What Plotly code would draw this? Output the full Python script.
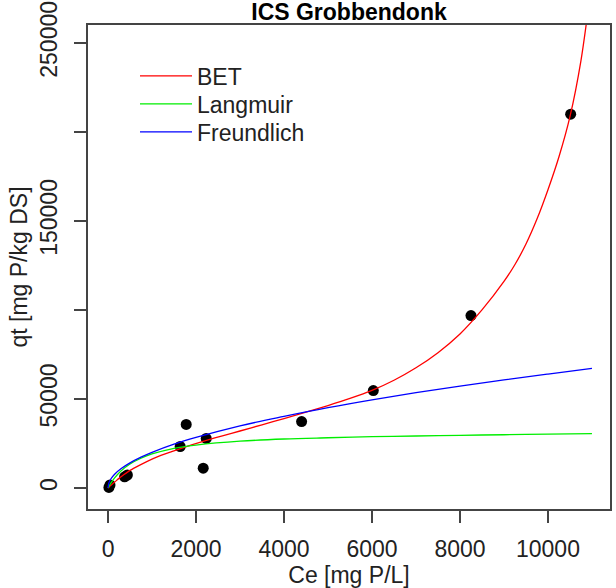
import plotly.graph_objects as go

# Observed data points
ce_obs = [20, 45, 377, 440, 1640, 1777, 2164, 2232, 4400, 6030, 8250, 10516]
qt_obs = [300, 1700, 6300, 7300, 23300, 35700, 11100, 27800, 37300, 54700, 96800, 209900]

# Fitted curves
bet_x = [0, 25, 50, 100, 150, 250, 350, 500, 700, 1000, 1300, 1600, 1900, 2200,
         2600, 3000, 3500, 4000, 4500, 5000, 5500, 6000, 6500, 7000, 7500, 8000,
         8500, 9000, 9250, 9500, 9750, 10000, 10250, 10500, 10750, 11000]
bet_y = [0, 600, 1200, 2300, 3300, 5400, 7300, 9900, 12600, 16200, 19100, 21700,
         24200, 26500, 29300, 32000, 35500, 39000, 42600, 46300, 50300, 54800,
         60500, 67500, 76000, 86500, 100000, 116000, 125500, 137000, 151000,
         167500, 186000, 208500, 240000, 285000]

lang_x = [0, 50, 150, 300, 500, 750, 1000, 1500, 2000, 3000, 4000, 5000, 6000,
          7000, 8000, 9000, 10000, 11000]
lang_y = [0, 2150, 5700, 9700, 13500, 16700, 19100, 22300, 24100, 26300, 27500,
          28200, 28800, 29200, 29600, 29900, 30200, 30500]

freu_x = [0, 20, 60, 150, 300, 500, 750, 1000, 1500, 2000, 3000, 4000, 5000,
          6000, 7000, 8000, 9000, 10000, 11000]
freu_y = [0, 2800, 4900, 7700, 10900, 14100, 17300, 20000, 24600, 28400, 34900,
          40200, 45100, 49500, 53500, 57200, 60700, 64000, 67200]

x_ticks = [0, 2000, 4000, 6000, 8000, 10000]
x_ticktext = ["0", "2000", "4000", "6000", "8000", "10000"]
y_ticks = [0, 50000, 100000, 150000, 200000, 250000]
y_ticktext = ["0", "50000", "", "150000", "", "250000"]

FONT = "Liberation Sans, Arial, Helvetica, sans-serif"
FS = 23

fig = go.Figure()
fig.add_trace(go.Scatter(x=ce_obs, y=qt_obs, mode="markers",
                         marker=dict(color="black", size=11),
                         showlegend=False))
fig.add_trace(go.Scatter(x=bet_x, y=bet_y, mode="lines", name="BET", legend="legend",
                         line=dict(color="#FF0000", width=1.3, shape="spline",
                                   smoothing=0.8)))
fig.add_trace(go.Scatter(x=lang_x, y=lang_y, mode="lines", name="Langmuir",
                         legend="legend2",
                         line=dict(color="#00EE00", width=1.3, shape="spline")))
fig.add_trace(go.Scatter(x=freu_x, y=freu_y, mode="lines", name="Freundlich",
                         legend="legend3",
                         line=dict(color="#0000FF", width=1.3, shape="spline")))

axis_common = dict(showgrid=False, zeroline=False, showline=True, mirror=True,
                   linecolor="#444", linewidth=1.5, ticks="outside", ticklen=12,
                   tickcolor="#444", tickwidth=1.5, automargin=False,
                   tickfont=dict(family=FONT, size=FS, color="#222"))

PLOT_T, PLOT_H = 25, 484


def legend_at(row_y):
    return dict(x=(135 - 88) / 522, y=1 - (row_y - PLOT_T) / PLOT_H,
                xanchor="left", yanchor="middle",
                bgcolor="rgba(0,0,0,0)", borderwidth=0,
                font=dict(family=FONT, size=FS, color="#222"),
                itemwidth=52)


fig.update_layout(
    width=616, height=588,
    margin=dict(l=88, r=6, t=25, b=79),
    paper_bgcolor="white", plot_bgcolor="white",
    title=dict(text="<b>ICS Grobbendonk</b>", x=(88 + 610) / 2 / 616, xanchor="center",
               y=1 - 12 / 588, yanchor="middle",
               font=dict(family=FONT, size=FS, color="black")),
    xaxis=dict(range=[-455, 11410], tickvals=x_ticks, ticktext=x_ticktext,
               title=dict(text="Ce [mg P/L]", standoff=2,
                          font=dict(family=FONT, size=FS, color="#222")),
               ticklabelstandoff=7, **axis_common),
    yaxis=dict(range=[-11800, 260000], tickvals=y_ticks, ticktext=y_ticktext,
               tickangle=-90,
               title=dict(text="qt [mg P/kg DS]", standoff=2,
                          font=dict(family=FONT, size=FS, color="#222")),
               ticklabelstandoff=8, **axis_common),
    legend=legend_at(76),
    legend2=legend_at(104),
    legend3=legend_at(132),
)

fig.write_html("out.html")
